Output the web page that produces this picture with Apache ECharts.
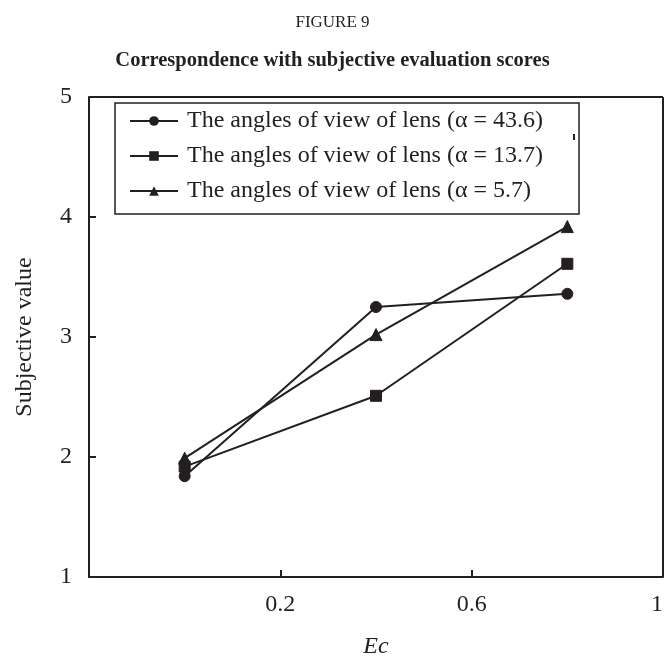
<!DOCTYPE html>
<html>
<head>
<meta charset="utf-8">
<script src="https://cdn.jsdelivr.net/npm/echarts@6/dist/echarts.min.js"></script>
<style>
  html, body { margin: 0; padding: 0; background: #fff; }
  #chart { width: 665px; height: 664px; }
</style>
</head>
<body>
<div id="chart"></div>
<script>
// Ec values on the horizontal axis
const ecValues = [0, 0.4, 0.8];
// Subjective scores for each lens angle of view
const alpha436 = [1.84, 3.25, 3.36];
const alpha137 = [1.92, 2.51, 3.61];
const alpha57 = [1.99, 3.02, 3.92];
const seriesNames = [
  'The angles of view of lens (\u03B1 = 43.6)',
  'The angles of view of lens (\u03B1 = 13.7)',
  'The angles of view of lens (\u03B1 = 5.7)'
];

const ink = '#231f20';
const serif = '"Liberation Serif", "Times New Roman", serif';

function pairs(ys) { return ecValues.map((x, i) => [x, ys[i]]); }

function lineSeries(name, ys, symbol, size) {
  return {
    name: name,
    type: 'line',
    data: pairs(ys),
    symbol: symbol,
    symbolSize: size,
    showAllSymbol: true,
    lineStyle: { color: ink, width: 2 },
    itemStyle: { color: ink, borderColor: ink },
    emphasis: { disabled: true },
    animation: false
  };
}

const chart = echarts.init(document.getElementById('chart'), null, { renderer: 'canvas' });
chart.setOption({
  backgroundColor: '#fff',
  animation: false,
  title: [
    {
      text: 'FIGURE 9',
      left: 'center', top: 9,
      textStyle: { fontFamily: serif, fontSize: 17, fontWeight: 'normal', color: ink }
    },
    {
      text: 'Correspondence with subjective evaluation scores',
      left: 'center', top: 45,
      textStyle: { fontFamily: serif, fontSize: 20.5, fontWeight: 'bold', color: ink }
    }
  ],
  legend: {
    orient: 'vertical',
    left: 115, top: 103,
    padding: [6, 36, 11, 14],
    itemGap: 11,
    itemWidth: 48,
    itemHeight: 12,
    borderColor: ink,
    borderWidth: 1.5,
    backgroundColor: '#fff',
    selectedMode: false,
    data: seriesNames,
    textStyle: { fontFamily: serif, fontSize: 24, color: ink, padding: [0, 0, 0, 4] }
  },
  grid: { left: 89, right: 2, top: 97, bottom: 87, show: false, outerBoundsMode: 'none' },
  xAxis: {
    type: 'value',
    min: -0.2, max: 1, interval: 0.4,
    name: 'Ec',
    nameLocation: 'middle',
    nameGap: 58,
    nameTextStyle: { fontFamily: serif, fontSize: 24, fontStyle: 'italic', color: ink },
    axisLine: { show: true, onZero: false, lineStyle: { color: ink, width: 2 } },
    axisTick: { show: true, inside: true, length: 7, lineStyle: { color: ink, width: 2 } },
    axisLabel: {
      showMinLabel: false,
      alignMaxLabel: 'right',
      margin: 16,
      fontFamily: serif, fontSize: 24, color: ink,
      formatter: v => String(Math.round(v * 10) / 10)
    },
    splitLine: { show: false }
  },
  yAxis: {
    type: 'value',
    min: 1, max: 5, interval: 1,
    name: 'Subjective value',
    nameLocation: 'middle',
    nameGap: 52,
    nameRotate: 90,
    nameTextStyle: { fontFamily: serif, fontSize: 24, color: ink },
    axisLine: { show: true, onZero: false, lineStyle: { color: ink, width: 2 } },
    axisTick: { show: true, inside: true, length: 7, lineStyle: { color: ink, width: 2 } },
    axisLabel: { margin: 17, fontFamily: serif, fontSize: 24, color: ink },
    splitLine: { show: false }
  },
  graphic: [
    // top and right edges of the plot frame
    { type: 'line', shape: { x1: 89, y1: 97, x2: 663, y2: 97 }, style: { stroke: ink, lineWidth: 2 }, z: 10 },
    { type: 'line', shape: { x1: 663, y1: 97, x2: 663, y2: 577 }, style: { stroke: ink, lineWidth: 2 }, z: 10 },
    // small stray mark beside the legend
    { type: 'rect', shape: { x: 573, y: 134, width: 2, height: 6 }, style: { fill: ink }, z: 10 }
  ],
  series: [
    lineSeries(seriesNames[0], alpha436, 'circle', 11),
    lineSeries(seriesNames[1], alpha137, 'rect', 11),
    lineSeries(seriesNames[2], alpha57, 'triangle', 12)
  ]
});
</script>
</body>
</html>
